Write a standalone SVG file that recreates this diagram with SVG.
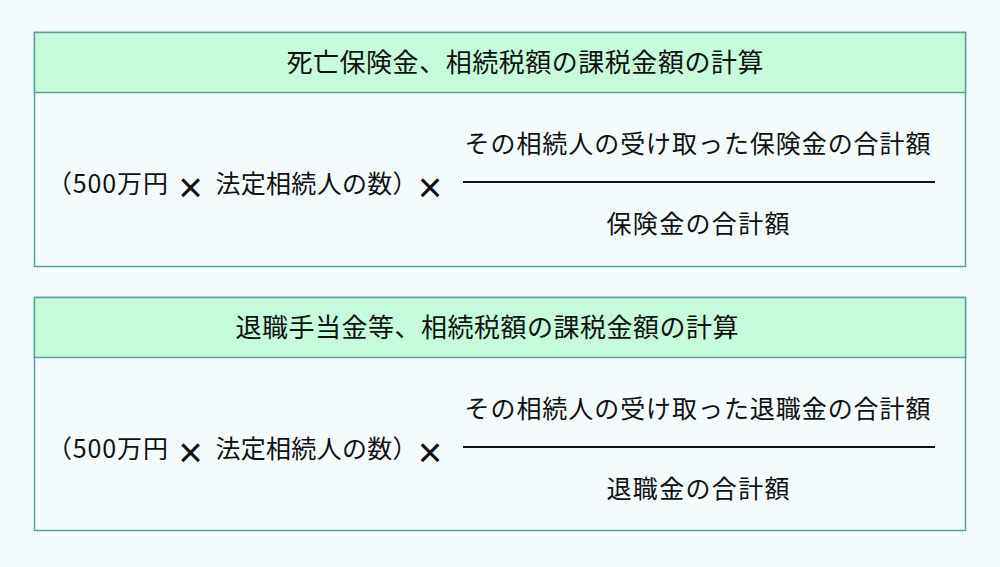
<svg xmlns="http://www.w3.org/2000/svg" width="1000" height="567" viewBox="0 0 1000 567">
<style>
.bg{fill:#f5fcfe}
.box{fill:#f5fcfe;stroke:#5b9fa0;stroke-width:1.5}
.head{fill:#c6fcdb;stroke:#5b9fa0;stroke-width:1.5}
.t{font-family:"Noto Sans CJK JP","Noto Sans",sans-serif;fill:#111}
.h{font-size:26px;font-weight:400}
.b{font-size:25px}
.x{font-family:"Liberation Sans","DejaVu Sans",sans-serif;font-size:42px;fill:#111;text-anchor:middle}
.rule{stroke:#111;stroke-width:2}
</style>
<rect class="bg" x="0" y="0" width="1000" height="567"/>
<g id="box-insurance">
  <rect class="box" x="34.5" y="32.5" width="931" height="234"/>
  <rect class="head" x="34.5" y="32.5" width="931" height="60"/>
  <text class="t h" x="286.5" y="72" textLength="477" lengthAdjust="spacing">死亡保険金、相続税額の課税金額の計算</text>
  <g id="formula-insurance">
    <text class="t b" x="47" y="193" textLength="121" lengthAdjust="spacing">（500万円</text>
    <text class="x" x="190.5" y="201.5">×</text>
    <text class="t b" x="215.5" y="193" textLength="202" lengthAdjust="spacing">法定相続人の数）</text>
    <text class="x" x="430" y="201.5">×</text>
    <text class="t b" x="464.5" y="153" textLength="466" lengthAdjust="spacing">その相続人の受け取った保険金の合計額</text>
    <line class="rule" x1="463" y1="182" x2="935" y2="182"/>
    <text class="t b" x="606.5" y="233" textLength="183" lengthAdjust="spacing">保険金の合計額</text>
  </g>
</g>
<g id="box-retirement">
  <rect class="box" x="34.5" y="297.5" width="931" height="233"/>
  <rect class="head" x="34.5" y="297.5" width="931" height="60"/>
  <text class="t h" x="235.5" y="337" textLength="503" lengthAdjust="spacing">退職手当金等、相続税額の課税金額の計算</text>
  <g id="formula-retirement">
    <text class="t b" x="47" y="458" textLength="121" lengthAdjust="spacing">（500万円</text>
    <text class="x" x="190.5" y="466.5">×</text>
    <text class="t b" x="215.5" y="458" textLength="202" lengthAdjust="spacing">法定相続人の数）</text>
    <text class="x" x="430" y="466.5">×</text>
    <text class="t b" x="464.5" y="418" textLength="466" lengthAdjust="spacing">その相続人の受け取った退職金の合計額</text>
    <line class="rule" x1="463" y1="447" x2="935" y2="447"/>
    <text class="t b" x="606.5" y="498" textLength="183" lengthAdjust="spacing">退職金の合計額</text>
  </g>
</g>
</svg>
